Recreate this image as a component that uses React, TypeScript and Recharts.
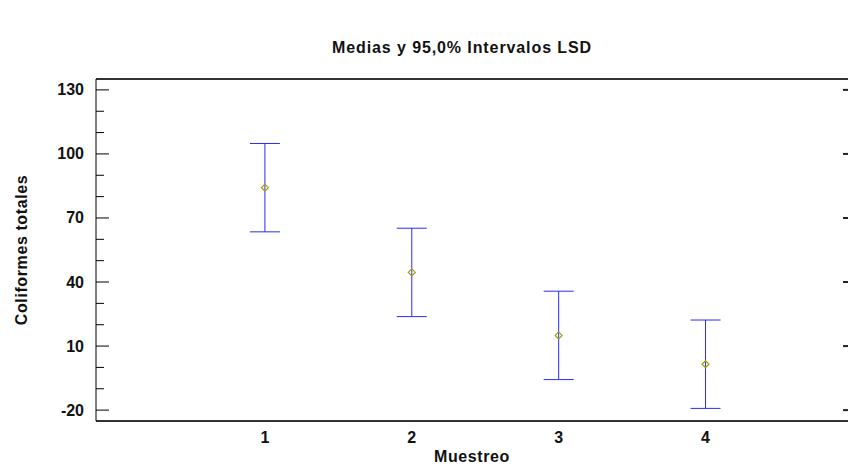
import React from 'react';
import { ComposedChart, Scatter, ErrorBar, XAxis, YAxis } from 'recharts';

const categories = [1, 2, 3, 4];
const means = [84.2, 44.5, 15.0, 1.5];
const halfWidths = [20.7, 20.7, 20.7, 20.7];
const yTicks = [-20, -10, 0, 10, 20, 30, 40, 50, 60, 70, 80, 90, 100, 110, 120, 130];
const yMajor = [-20, 10, 40, 70, 100, 130];
const xTicks = [1, 2, 3, 4];

const data = categories.map((c, i) => ({ x: c, y: means[i], err: halfWidths[i] }));

const FONT = 'Liberation Sans, Arial, sans-serif';

const LeftTick = (props: any) => {
  const { x, y, payload } = props;
  const v = payload.value;
  const major = yMajor.includes(v);
  const ax = x + 12;
  return (
    <g>
      <line x1={ax} y1={y} x2={ax + (major ? 13 : 8)} y2={y} stroke="#000" strokeWidth={1} />
      {major && (
        <text x={x} y={y} dy={5.5} textAnchor="end" fontFamily={FONT} fontWeight="bold" fontSize={16} fill="#111">
          {v}
        </text>
      )}
    </g>
  );
};

const RightTick = (props: any) => {
  const { x, y } = props;
  return <line x1={x} y1={y} x2={x - 5} y2={y} stroke="#222" strokeWidth={2} />;
};

const Diamond = (props: any) => {
  const { cx, cy } = props;
  const r = 3.5;
  return (
    <polygon
      points={`${cx},${cy - r} ${cx + r},${cy} ${cx},${cy + r} ${cx - r},${cy}`}
      fill="none"
      stroke="#a0a000"
      strokeWidth={1.2}
    />
  );
};

export default function App() {
  return (
    <div style={{ position: 'absolute', left: 0, top: 0, width: 865, height: 473, background: '#fff' }}>
      <ComposedChart width={865} height={473} data={data} margin={{ top: 78, right: 16, bottom: 51, left: 95 }}>
        <text x={462} y={53} textAnchor="middle" fontFamily={FONT} fontWeight="bold" fontSize={16} letterSpacing={0.9} fill="#111">
          Medias y 95,0% Intervalos LSD
        </text>
        <XAxis
          xAxisId="b"
          type="number"
          dataKey="x"
          domain={[-0.15, 4.97]}
          ticks={xTicks}
          allowDataOverflow
          height={1}
          axisLine={{ stroke: '#333', strokeWidth: 2 }}
          tickLine={false}
          tickMargin={5}
          tick={{ fontFamily: FONT, fontWeight: 'bold', fontSize: 16, fill: '#111' }}
          label={{ value: 'Muestreo', position: 'insideBottom', offset: -40, fontFamily: FONT, fontWeight: 'bold', fontSize: 16, letterSpacing: 0.6, fill: '#111' }}
        />
        <XAxis
          xAxisId="t"
          orientation="top"
          type="number"
          domain={[-0.15, 4.97]}
          height={1}
          axisLine={{ stroke: '#333', strokeWidth: 2 }}
          tickLine={false}
          tick={false}
        />
        <YAxis
          yAxisId="l"
          type="number"
          domain={[-25.1, 135.1]}
          ticks={yTicks}
          interval={0}
          allowDataOverflow
          width={1}
          axisLine={{ stroke: '#000', strokeWidth: 1 }}
          tickLine={false}
          tickSize={0}
          tickMargin={12}
          tick={<LeftTick />}
          label={{ value: 'Coliformes totales', angle: -90, position: 'insideLeft', offset: -74, fontFamily: FONT, fontWeight: 'bold', fontSize: 16, letterSpacing: 0.6, fill: '#111', style: { textAnchor: 'middle' } }}
        />
        <YAxis
          yAxisId="r"
          orientation="right"
          type="number"
          domain={[-25.1, 135.1]}
          ticks={yMajor}
          interval={0}
          allowDataOverflow
          width={1}
          axisLine={false}
          tickLine={false}
          tickSize={0}
          tickMargin={0}
          tick={<RightTick />}
        />
        <Scatter xAxisId="b" yAxisId="l" dataKey="y" shape={<Diamond />} isAnimationActive={false}>
          <ErrorBar dataKey="err" direction="y" width={15} stroke="#2a2aff" strokeWidth={1} isAnimationActive={false} />
        </Scatter>
      </ComposedChart>
    </div>
  );
}
